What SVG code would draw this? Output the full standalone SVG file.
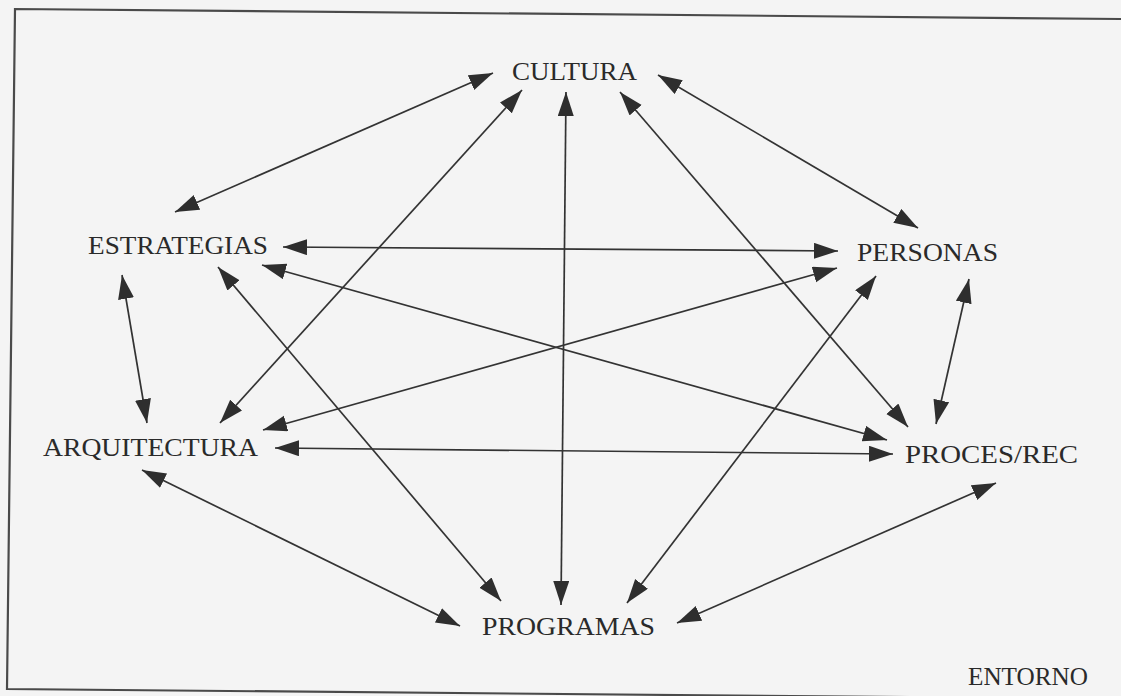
<svg xmlns="http://www.w3.org/2000/svg" width="1121" height="696" viewBox="0 0 1121 696">
<defs>
<marker id="ah" markerUnits="userSpaceOnUse" markerWidth="26" markerHeight="18" refX="24" refY="8" orient="auto-start-reverse" viewBox="0 0 26 18">
<path d="M0,0 L24,8 L0,16 Z" fill="#2e2e2e"/>
</marker>
<style>
.lbl{font-family:"Liberation Serif","Times New Roman",serif;font-size:26px;fill:#2a2a2a;}
.c{stroke:#333;stroke-width:1.7;fill:none;marker-start:url(#ah);marker-end:url(#ah);}
</style>
</defs>
<rect x="0" y="0" width="1121" height="696" fill="#f4f4f4"/>
<polyline points="1121,19 15,9 7,689 1121,699" fill="none" stroke="#4a4a4a" stroke-width="2.2"/>
<g id="connectors">
<line class="c" x1="493" y1="73" x2="175" y2="212"/>
<line class="c" x1="522" y1="90" x2="220" y2="423"/>
<line class="c" x1="566" y1="92" x2="561" y2="605"/>
<line class="c" x1="620" y1="92" x2="908" y2="427"/>
<line class="c" x1="658" y1="75" x2="918" y2="228"/>
<line class="c" x1="122" y1="275" x2="147" y2="423"/>
<line class="c" x1="283" y1="247" x2="838" y2="251"/>
<line class="c" x1="262" y1="265" x2="887" y2="440"/>
<line class="c" x1="218" y1="267" x2="501" y2="601"/>
<line class="c" x1="263" y1="430" x2="837" y2="268"/>
<line class="c" x1="275" y1="448" x2="893" y2="454"/>
<line class="c" x1="142" y1="470" x2="460" y2="626"/>
<line class="c" x1="876" y1="276" x2="627" y2="603"/>
<line class="c" x1="969" y1="279" x2="936" y2="424"/>
<line class="c" x1="996" y1="483" x2="677" y2="623"/>
</g>
<g id="cultura"><text class="lbl" x="512" y="80" textLength="125" lengthAdjust="spacingAndGlyphs">CULTURA</text></g>
<g id="estrategias"><text class="lbl" x="88" y="254" textLength="180" lengthAdjust="spacingAndGlyphs">ESTRATEGIAS</text></g>
<g id="personas"><text class="lbl" x="857" y="261" textLength="141" lengthAdjust="spacingAndGlyphs">PERSONAS</text></g>
<g id="arquitectura"><text class="lbl" x="43" y="456" textLength="215" lengthAdjust="spacingAndGlyphs">ARQUITECTURA</text></g>
<g id="proces-rec"><text class="lbl" x="905" y="463" textLength="173" lengthAdjust="spacingAndGlyphs">PROCES/REC</text></g>
<g id="programas"><text class="lbl" x="482" y="635" textLength="173" lengthAdjust="spacingAndGlyphs">PROGRAMAS</text></g>
<g id="entorno"><text class="lbl" x="968" y="685" textLength="120" lengthAdjust="spacingAndGlyphs">ENTORNO</text></g>
</svg>
